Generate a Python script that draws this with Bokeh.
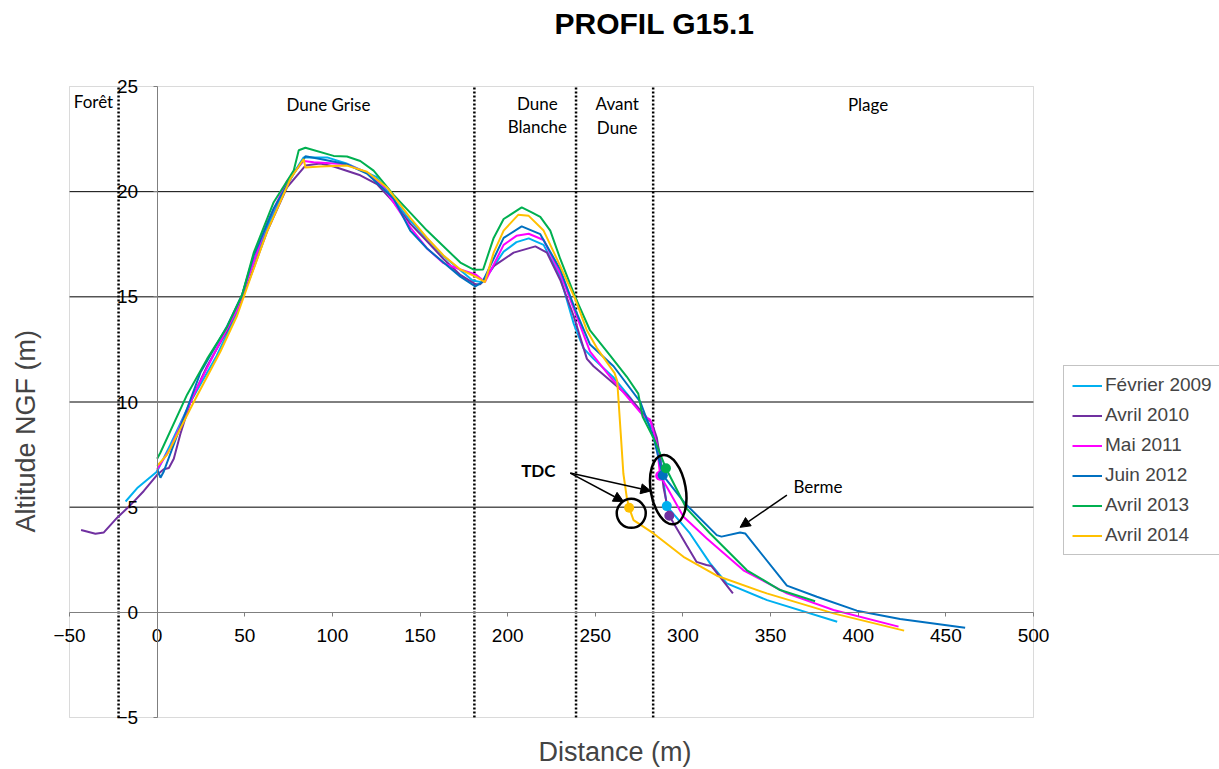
from bokeh.plotting import figure
from bokeh.models import (Range1d, Arrow, NormalHead, Legend, LegendItem,
                          Title, FixedTicker, BoxAnnotation)
from bokeh.core.properties import value
from bokeh.embed import file_html
from bokeh.resources import INLINE

# ---------------- data ----------------
series_names = ["Février 2009", "Avril 2010", "Mai 2011", "Juin 2012", "Avril 2013", "Avril 2014"]
series_colors = ["#00B0F0", "#7030A0", "#FF00FF", "#0070C0", "#00B050", "#FFC000"]

fev2009_x = [-18, -11, 0, 7.6, 19, 34, 45.6, 51, 62.7, 74, 83.6, 97, 108, 125, 144, 163, 180, 185, 190,
             197.7, 205, 212, 220.5, 230, 237.6, 243.3, 249, 260, 270, 283.2, 287, 290.8, 304, 315.5,
             325, 348, 388]
fev2009_y = [5.27, 5.94, 6.7, 7.98, 10.0, 12.2, 14.25, 15.78, 18.3, 20.36, 21.63, 21.63, 21.34, 20.7,
             18.66, 16.97, 15.78, 15.7, 16.2, 17.15, 17.6, 17.78, 17.47, 15.95, 13.74, 12.55, 12.05,
             11.2, 10.2, 8.66, 7.47, 5.05, 3.75, 2.33, 1.38, 0.58, -0.45]

avr2010_x = [-43.4, -35.2, -30.4, -22.8, -15.2, -7.6, 0, 3.8, 6.7, 9.5, 13.3, 19, 28.5, 39.9, 47.5, 53.2,
             62.7, 74.1, 84.6, 93.1, 100.7, 115.9, 125.4, 134.9, 144.4, 154, 163.4, 173, 181.5, 184.4,
             192, 203.4, 215.8, 222.4, 230, 237.6, 245.2, 249, 268, 279.4, 282.3, 285.1, 287, 288.9,
             292.2, 302, 307.7, 313.4, 316.3, 328.5]
avr2010_y = [3.91, 3.74, 3.8, 4.5, 5.1, 5.77, 6.54, 6.8, 6.86, 7.3, 8.49, 10.0, 11.7, 13.4, 14.76, 15.95,
             18.1, 20.2, 21.24, 21.34, 21.2, 20.78, 20.36, 19.5, 18.48, 17.64, 16.8, 16.04, 15.6, 15.6,
             16.46, 17.1, 17.4, 17.1, 15.8, 14.1, 12.05, 11.7, 10.35, 9.25, 9.0, 8.3, 7.3, 5.95,
             4.59, 3.2, 2.4, 2.25, 2.2, 0.9]

mai2011_x = [0, 7.6, 20.9, 34.2, 45.6, 51.3, 62.7, 74.1, 83.6, 89.3, 108.3, 119.7, 129.2, 144.4, 154,
             163.4, 173, 182, 187, 197.7, 205, 212, 220.5, 230, 238.5, 247, 258.5, 277.5, 281.3, 285.1,
             287, 290.8, 300.3, 313.6, 334.5, 359.3, 385.9, 423]
mai2011_y = [6.8, 7.8, 10.35, 12.57, 14.4, 15.78, 18.5, 20.5, 21.46, 21.4, 21.3, 20.9, 20.2, 18.3, 17.3,
             16.6, 16.3, 16.05, 15.7, 17.47, 17.9, 18.0, 17.7, 16.1, 14.26, 12.4, 11.2, 9.33, 9.16, 7.98,
             6.49, 5.96, 4.54, 3.51, 2.0, 0.9, 0.11, -0.68]

juin2012_x = [0, 1.9, 3.8, 9.5, 24.7, 39.9, 48.5, 55.1, 66.5, 77.9, 84.6, 93.1, 108.3, 119.7, 134.9,
              144.4, 154, 163.4, 173, 181.5, 185.6, 197.7, 208, 218.6, 230, 238.5, 247, 260.4, 275.7,
              283.2, 288.5, 301.3, 319.3, 322, 332.6, 335.5, 359.3, 376.4, 399.2, 423.9, 461]
juin2012_y = [6.8, 6.4, 6.7, 7.98, 11.4, 13.6, 15.1, 16.96, 19.2, 20.85, 21.68, 21.55, 21.3, 20.86, 19.68,
              18.15, 17.3, 16.63, 15.96, 15.5, 15.7, 17.8, 18.35, 17.98, 16.3, 14.4, 12.73, 11.7, 10.0,
              8.32, 6.52, 5.17, 3.67, 3.6, 3.8, 3.75, 1.27, 0.74, 0.08, -0.32, -0.73]

avr2013_x = [0, 1.9, 17.1, 28.5, 39.9, 48.5, 55.1, 66.5, 77.9, 80.8, 84.6, 100.7, 108.3, 115.9, 123.5,
             134.9, 154, 173, 180.6, 186, 192, 197.7, 208, 214, 218.6, 224.3, 230, 238.5, 247, 258.5,
             268, 274.5, 277, 284, 290.3, 302, 315.5, 336.5, 355.4, 375.4]
avr2013_y = [7.3, 7.6, 10.35, 12.05, 13.57, 15.1, 17.1, 19.5, 21.0, 21.97, 22.09, 21.7, 21.67, 21.46, 21.0,
             19.85, 18.15, 16.63, 16.29, 16.3, 17.8, 18.7, 19.25, 19.0, 18.8, 18.15, 16.8, 15.0, 13.4,
             12.2, 11.2, 10.4, 9.3, 8.15, 6.85, 4.94, 3.75, 2.0, 1.06, 0.53]

avr2014_x = [0, 5.7, 20.9, 36.1, 45.6, 51.3, 62.7, 76, 83.6, 84.6, 93.1, 108.3, 119.7, 131.1, 144.4, 154,
             163.4, 173, 182, 187, 192, 197.7, 206, 212, 220.5, 230, 238.5, 245.2, 251, 261, 262.5,
             264.5, 266, 268, 269.3, 271.8, 283.2, 300.3, 319.3, 347.8, 385.9, 426.2]
avr2014_y = [6.96, 7.5, 10.0, 12.4, 14.1, 15.45, 18.1, 20.6, 21.55, 21.15, 21.2, 21.24, 20.95, 20.2, 18.75,
             17.8, 16.97, 16.3, 15.95, 15.7, 17.1, 18.15, 18.9, 18.85, 18.15, 16.46, 14.9, 13.4, 12.55,
             11.37, 11.0, 8.5, 6.6, 5.43, 4.97, 4.38, 3.75, 2.64, 1.74, 0.9, -0.05, -0.87]

# TDC points (same order as series)
tdc_x = [290.8, 292.2, 287.0, 288.5, 290.3, 269.3]
tdc_y = [5.05, 4.59, 6.49, 6.52, 6.85, 4.97]

zone_bounds = [-22, 181, 239, 283]
zone_labels = ["Forêt", "Dune Grise", "Dune", "Blanche", "Avant", "Dune", "Plage"]
x_ticks = [-50, 0, 50, 100, 150, 200, 250, 300, 350, 400, 450, 500]
y_ticks = [-5, 0, 5, 10, 15, 20, 25]
x_min, x_max = -50, 500
y_min, y_max = -5, 25

series_x = [fev2009_x, avr2010_x, mai2011_x, juin2012_x, avr2013_x, avr2014_x]
series_y = [fev2009_y, avr2010_y, mai2011_y, juin2012_y, avr2013_y, avr2014_y]

# ---------------- layout ----------------
BOX_W, BOX_H = 964, 631          # plot-area box in pixels
PAD_X, PAD_Y = 20, 14            # room so that end tick labels are not clipped
dx = PAD_X * (x_max - x_min) / BOX_W
dy = PAD_Y * (y_max - y_min) / BOX_H

p = figure(frame_width=BOX_W + 2 * PAD_X, frame_height=BOX_H + 2 * PAD_Y,
           x_range=Range1d(x_min - dx, x_max + dx), y_range=Range1d(y_min - dy, y_max + dy),
           output_backend="svg", toolbar_location=None, title=None,
           min_border_left=48, min_border_right=165, min_border_top=72, min_border_bottom=36,
           background_fill_color="white", border_fill_color="white")
p.outline_line_color = None
p.xgrid.visible = False
p.ygrid.visible = False

# spacer (closest to the frame) then the chart title above it
p.add_layout(Title(text=" ", text_font_size="12px", standoff=16), "above")
p.add_layout(Title(text="PROFIL G15.1", align="left", offset=505, standoff=2,
                   text_font="Liberation Sans", text_font_size="30px",
                   text_font_style="bold", text_color="black"), "above")

# horizontal grid lines inside the plot box
grid_levels = [t for t in y_ticks if t not in (y_min, 0, y_max)]
p.segment(x0=[x_min] * len(grid_levels), x1=[x_max] * len(grid_levels),
          y0=grid_levels, y1=grid_levels, line_color="black", line_width=1, level="underlay")

# zone boundaries (dotted verticals)
p.segment(x0=zone_bounds, x1=zone_bounds,
          y0=[y_min] * len(zone_bounds), y1=[y_max] * len(zone_bounds),
          line_color="black", line_dash="2 2", line_width=2.5, level="underlay")

# plot-area border
p.add_layout(BoxAnnotation(left=x_min, right=x_max, bottom=y_min, top=y_max,
                           fill_alpha=0, line_color="#868686", line_width=1, level="underlay"))

# axes crossing at 0
for ax in (p.xaxis, p.yaxis):
    ax.fixed_location = 0
    ax.axis_line_color = "#7f7f7f"
    ax.major_tick_line_color = "#7f7f7f"
    ax.major_tick_in = 0
    ax.major_tick_out = 4
    ax.minor_tick_line_color = None
    ax.major_label_text_font = "Liberation Sans"
    ax.major_label_text_font_size = "19px"
    ax.major_label_text_color = "black"
p.xaxis.bounds = (x_min, x_max)
p.yaxis.bounds = (y_min, y_max)
p.xaxis.ticker = FixedTicker(ticks=x_ticks)
p.yaxis.ticker = FixedTicker(ticks=y_ticks)
p.xaxis.major_label_standoff = 13
p.yaxis.major_label_standoff = 15

p.add_layout(Title(text="Distance (m)", align="left", offset=489, text_font="Liberation Sans",
                   text_font_size="27px", text_font_style="normal", standoff=7), "below")
p.add_layout(Title(text="Altitude NGF (m)", align="left", offset=199, text_font="Liberation Sans",
                   text_font_size="27px", text_font_style="normal", standoff=17), "left")

p.text(x=[-36.3, 97.7, 216.9, 216.9, 262.5, 262.5, 405.6],
       y=[24.28, 24.14, 24.19, 23.1, 24.19, 23.05, 24.14],
       text=zone_labels, text_font=value("Lato"), text_font_size="17px",
       text_align="center", text_baseline="middle", text_color="black")

# profiles
renderers = []
for xs, ys, c in zip(series_x, series_y, series_colors):
    renderers.append(p.line(xs, ys, line_color=c, line_width=2))

p.scatter(tdc_x, tdc_y, size=10, color=series_colors, line_color=None)

# annotations
p.ellipse(x=[270.5], y=[4.71], width=29, height=29, angle=0,
          width_units="screen", height_units="screen",
          fill_color=None, line_color="black", line_width=2.5)
p.ellipse(x=[291.6], y=[5.83], width=35, height=70, angle=0.17,
          width_units="screen", height_units="screen",
          fill_color=None, line_color="black", line_width=2.5)

for xe, ye in [(266.1, 5.27), (281.7, 5.77)]:
    p.add_layout(Arrow(end=NormalHead(size=10, fill_color="black", line_color="black"),
                       x_start=235.7, y_start=6.62, x_end=xe, y_end=ye,
                       line_color="black", line_width=1.5))
p.add_layout(Arrow(end=NormalHead(size=10, fill_color="black", line_color="black"),
                   x_start=359.3, y_start=5.57, x_end=332.6, y_end=4.04,
                   line_color="black", line_width=1.5))

p.text(x=[217.5], y=[6.76], text=["TDC"], text_font=value("Lato"), text_font_size="17px",
       text_font_style="bold", text_align="center", text_baseline="middle", text_color="black")
p.text(x=[377.0], y=[6.0], text=["Berme"], text_font=value("Lato"), text_font_size="17px",
       text_align="center", text_baseline="middle", text_color="black")

legend = Legend(items=[LegendItem(label=n, renderers=[r]) for n, r in zip(series_names, renderers)],
                location=(10, 176), label_text_font="Liberation Sans", label_text_font_size="19px",
                glyph_width=30, glyph_height=21, label_height=21, spacing=8, padding=8,
                label_standoff=3, border_line_color="#888888", border_line_width=1,
                margin=0, background_fill_color="white")
p.add_layout(legend, "right")

open("out.html", "w").write(file_html(p, INLINE))
